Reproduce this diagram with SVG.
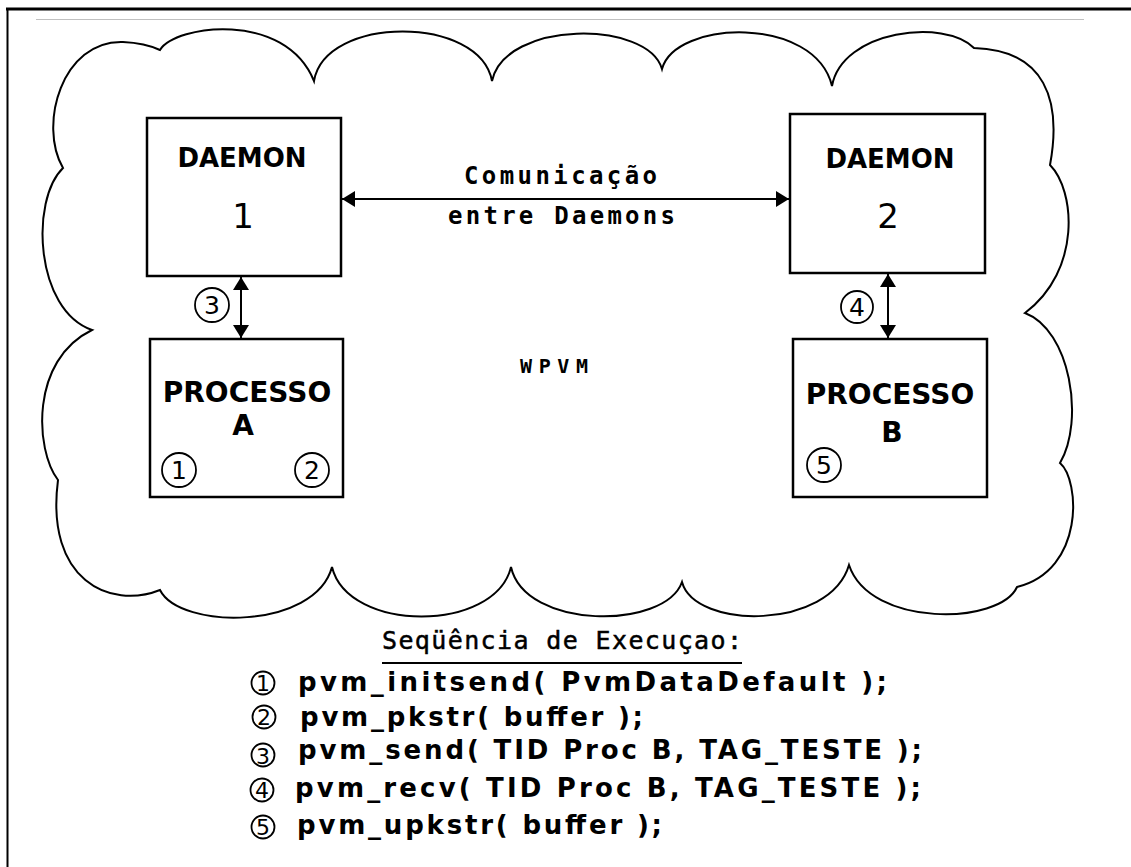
<svg xmlns="http://www.w3.org/2000/svg" width="1131" height="867" viewBox="0 0 1131 867">
<defs>
<style>
.box{fill:#fff;stroke:#000;stroke-width:2.5}
.ln{stroke:#000;stroke-width:2;fill:none}
.cir{fill:none;stroke:#000;stroke-width:1.8}
.lbl{font-family:"DejaVu Sans","Liberation Sans",sans-serif;font-weight:bold;fill:#000;text-anchor:middle}
.num{font-family:"DejaVu Sans","Liberation Sans",sans-serif;fill:#000;text-anchor:middle}
.mono{font-family:"DejaVu Sans Mono","Liberation Mono",monospace;fill:#000}
.code{font-family:"DejaVu Sans","Liberation Sans",sans-serif;font-weight:bold;font-size:26px;fill:#000}
</style>
<marker id="ah" viewBox="0 0 13 16" refX="13" refY="8" markerWidth="13" markerHeight="16" markerUnits="userSpaceOnUse" orient="auto-start-reverse">
<path d="M0,0 L13,8 L0,16 z" fill="#000"/>
</marker>
</defs>
<rect width="1131" height="867" fill="#fff"/>
<g id="frame">
<line x1="6" y1="9" x2="1131" y2="9" stroke="#000" stroke-width="3"/>
<line x1="7.5" y1="8" x2="7.5" y2="867" stroke="#000" stroke-width="2"/>
<line x1="36" y1="19.5" x2="1084" y2="19.5" stroke="#c0c0c0" stroke-width="1"/>
</g>
<g id="cloud">
<path class="ln" d="M160,50 C175,25 285,10 314,81 C325,15 480,15 492,81 C505,20 648,20 662,69 C675,20 815,15 832,86 C842,30 945,18 974,48 C1045,50 1062,100 1050,165 C1075,190 1082,270 1025,313 C1070,330 1085,420 1060,463 C1080,480 1085,570 1017,587 C1000,625 870,628 849,565 C830,630 695,630 682,582 C665,630 525,630 511,567 C495,633 348,633 332,567 C315,630 180,630 160,590 C110,610 45,580 58,480 C35,450 30,360 92,330 C35,310 30,200 63,168 C38,125 62,40 123,42 Q145,43 160,50 Z"/>
<text class="mono" x="520" y="373" font-size="20" font-weight="bold" textLength="68" lengthAdjust="spacing">WPVM</text>
</g>
<g id="daemon1">
<rect class="box" x="147" y="118" width="194" height="158"/>
<text class="lbl" x="242" y="167" font-size="26">DAEMON</text>
<text class="num" x="243" y="228" font-size="34">1</text>
</g>
<g id="daemon2">
<rect class="box" x="790" y="114" width="195" height="159"/>
<text class="lbl" x="890" y="168" font-size="26">DAEMON</text>
<text class="num" x="888" y="228" font-size="34">2</text>
</g>
<g id="processoA">
<rect class="box" x="150" y="339" width="193" height="158"/>
<text class="lbl" x="247" y="402" font-size="28">PROCESSO</text>
<text class="lbl" x="243" y="435" font-size="28">A</text>
<circle class="cir" cx="179" cy="470" r="17"/>
<text class="num" x="179" y="479" font-size="25">1</text>
<circle class="cir" cx="312" cy="470" r="17"/>
<text class="num" x="312" y="479" font-size="25">2</text>
</g>
<g id="processoB">
<rect class="box" x="793" y="339" width="194" height="158"/>
<text class="lbl" x="890" y="404" font-size="28">PROCESSO</text>
<text class="lbl" x="892" y="442" font-size="28">B</text>
<circle class="cir" cx="824" cy="465" r="17"/>
<text class="num" x="824" y="474" font-size="25">5</text>
</g>
<g id="connectors">
<line class="ln" x1="342" y1="199" x2="789" y2="199" marker-start="url(#ah)" marker-end="url(#ah)"/>
<line class="ln" x1="241" y1="277" x2="241" y2="338" marker-start="url(#ah)" marker-end="url(#ah)"/>
<line class="ln" x1="888" y1="274" x2="888" y2="338" marker-start="url(#ah)" marker-end="url(#ah)"/>
<text class="mono" x="464" y="184" font-size="24" font-weight="bold" textLength="193" lengthAdjust="spacing">Comunicação</text>
<text class="mono" x="448" y="224" font-size="24" font-weight="bold" textLength="227" lengthAdjust="spacing">entre Daemons</text>
<circle class="cir" cx="212" cy="305" r="17"/>
<text class="num" x="212" y="314" font-size="25">3</text>
<circle class="cir" cx="857" cy="307" r="16"/>
<text class="num" x="857" y="316" font-size="25">4</text>
</g>
<g id="sequence">
<text class="mono" x="382" y="649" font-size="25" stroke="#000" stroke-width="0.5" textLength="360" lengthAdjust="spacing">Seqüência de Execuçao:</text>
<line x1="382" y1="663" x2="742" y2="663" stroke="#000" stroke-width="2"/>
<circle class="cir" cx="263" cy="683" r="11.5"/>
<text class="num" x="263" y="691" font-size="22">1</text>
<text class="code" x="298" y="691" textLength="589" lengthAdjust="spacing">pvm_initsend( PvmDataDefault );</text>
<circle class="cir" cx="264" cy="717" r="11.5"/>
<text class="num" x="264" y="725" font-size="22">2</text>
<text class="code" x="300" y="726" textLength="343" lengthAdjust="spacing">pvm_pkstr( buffer );</text>
<circle class="cir" cx="263" cy="755" r="11.5"/>
<text class="num" x="263" y="764" font-size="22">3</text>
<text class="code" x="298" y="759" textLength="624" lengthAdjust="spacing">pvm_send( TID Proc B, TAG_TESTE );</text>
<circle class="cir" cx="262" cy="790" r="11.5"/>
<text class="num" x="262" y="798" font-size="22">4</text>
<text class="code" x="295" y="797" textLength="626" lengthAdjust="spacing">pvm_recv( TID Proc B, TAG_TESTE );</text>
<circle class="cir" cx="263" cy="827" r="11.5"/>
<text class="num" x="263" y="835" font-size="22">5</text>
<text class="code" x="297" y="834" textLength="365" lengthAdjust="spacing">pvm_upkstr( buffer );</text>
</g>
</svg>
